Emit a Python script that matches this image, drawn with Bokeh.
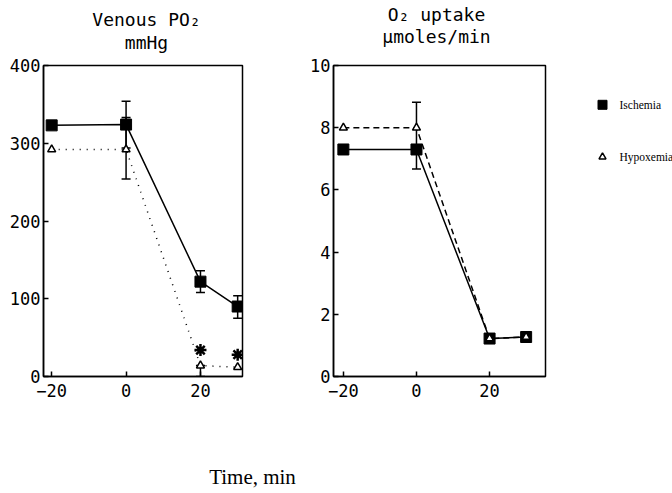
from bokeh.plotting import figure
from bokeh.models import Range1d, FixedTicker, Whisker, TeeHead, ColumnDataSource
from bokeh.layouts import column, row
from bokeh.embed import file_html
from bokeh.resources import INLINE
from bokeh.core.properties import value

# ---------------- data ----------------
time = [-20, 0, 20, 30]

# Venous PO2 (mmHg)
po2_ischemia = [323, 324, 122, 90]
po2_hypoxemia = [292, 292, 14, 12]
po2_isch_err_t = [0, 20, 30]
po2_isch_err_lo = [294, 108, 75]
po2_isch_err_hi = [354, 136, 104]
po2_hyp_err_t = [0, 20]
po2_hyp_err_lo = [254, 0]
po2_hyp_err_hi = [333, 14]
sig_t = [20, 30]
sig_y = [34, 28]

# O2 uptake (umoles/min)
o2_ischemia = [7.3, 7.3, 1.22, 1.27]
o2_hypoxemia = [8.0, 8.0, 1.22, 1.27]
o2_err_t = [0]
o2_err_lo = [6.67]
o2_err_hi = [8.82]

x_ticks = [-20, 0, 20]
po2_ticks = [0, 100, 200, 300, 400]
o2_ticks = [0, 2, 4, 6, 8, 10]

series_names = ["Ischemia", "Hypoxemia"]
x_title = "Time, min"
panel_titles = ["Venous PO₂", "mmHg", "O₂ uptake", "μmoles/min"]

MONO = "DejaVu Sans Mono"
SERIF = "Liberation Serif"
W1, W2, LW = 293, 262, 117
TW = W1 + W2 + LW
T = 56          # title strip height
H1 = 378 - T + 42   # panel row height
TH = 70         # bottom strip height


def bare(w, h):
    p = figure(width=w, height=h, x_range=Range1d(0, w), y_range=Range1d(h, 0),
               output_backend="svg", toolbar_location=None, x_axis_type=None,
               y_axis_type=None, min_border=0, title=None)
    p.xgrid.visible = False
    p.ygrid.visible = False
    p.outline_line_color = None
    return p


def style(p, xt, yt):
    p.xgrid.visible = False
    p.ygrid.visible = False
    p.outline_line_color = "black"
    p.outline_line_width = 1.5
    p.xaxis.ticker = FixedTicker(ticks=xt)
    p.yaxis.ticker = FixedTicker(ticks=yt)
    for ax in (p.xaxis, p.yaxis):
        ax.axis_line_width = 1.5
        ax.axis_line_color = "black"
        ax.major_tick_in = 5
        ax.major_tick_out = 0
        ax.major_tick_line_width = 1.5
        ax.minor_tick_line_color = None
        ax.major_label_text_font = MONO
        ax.major_label_text_font_size = "17px"
        ax.major_label_text_color = "black"
    p.yaxis.major_label_standoff = 3
    p.xaxis.major_label_standoff = 7
    p.background_fill_color = "white"
    p.border_fill_color = "white"


# ---------------- title strip ----------------
pt = bare(TW, T)
pt.text([146, 146, 436, 436], [19, 42, 14, 36], text=panel_titles,
        text_font=value(MONO), text_font_size="18px", text_align="center",
        text_baseline="middle", text_color="black")

# ---------------- left panel ----------------
p1 = figure(width=W1, height=H1, x_range=Range1d(-22.2, 31.3), y_range=Range1d(0, 400),
            output_backend="svg", toolbar_location=None, title=None,
            min_border_left=43, min_border_right=51, min_border_top=65 - T,
            min_border_bottom=H1 - (378 - T))
style(p1, x_ticks, po2_ticks)

p1.line(time, po2_hypoxemia, line_color="black", line_width=1.5, line_dash="1 6")
p1.line(time, po2_ischemia, line_color="black", line_width=1.5)
src_pi = ColumnDataSource(dict(t=po2_isch_err_t, lo=po2_isch_err_lo, hi=po2_isch_err_hi))
src_ph = ColumnDataSource(dict(t=po2_hyp_err_t, lo=po2_hyp_err_lo, hi=po2_hyp_err_hi))
for src in (src_pi, src_ph):
    p1.add_layout(Whisker(source=src, base="t", lower="lo", upper="hi",
                          line_color="black", line_width=1.5,
                          upper_head=TeeHead(size=9, line_width=1.5),
                          lower_head=TeeHead(size=9, line_width=1.5)))
p1.scatter(time, po2_ischemia, marker="square", size=11, fill_color="black", line_color="black")
p1.scatter(time, po2_hypoxemia, marker="triangle", size=8, fill_color="white",
           line_color="black", line_width=1.5)
p1.scatter(sig_t, sig_y, marker="asterisk", size=12, line_color="black", line_width=2.5)

# ---------------- right panel ----------------
p2 = figure(width=W2, height=H1, x_range=Range1d(-22.7, 35.3), y_range=Range1d(0, 10),
            output_backend="svg", toolbar_location=None, title=None,
            min_border_left=40, min_border_right=10, min_border_top=60 - T,
            min_border_bottom=H1 - (376 - T))
style(p2, x_ticks, o2_ticks)

p2.line(time, o2_hypoxemia, line_color="black", line_width=1.5, line_dash="6 4")
p2.line(time, o2_ischemia, line_color="black", line_width=1.5)
src_o = ColumnDataSource(dict(t=o2_err_t, lo=o2_err_lo, hi=o2_err_hi))
p2.add_layout(Whisker(source=src_o, base="t", lower="lo", upper="hi",
                      line_color="black", line_width=1.5,
                      upper_head=TeeHead(size=9, line_width=1.5),
                      lower_head=TeeHead(size=9, line_width=1.5)))
p2.scatter(time, o2_ischemia, marker="square", size=11, fill_color="black", line_color="black")
p2.scatter(time, o2_hypoxemia, marker="triangle", size=8, fill_color="white",
           line_color="black", line_width=1.5)

# ---------------- legend panel ----------------
p3 = bare(LW, H1)
leg_x = [47, 47]
leg_y = [102 - T, 163 - T]
p3.scatter(leg_x[:1], leg_y[:1], marker="square", size=9, fill_color="black", line_color="black")
p3.scatter(leg_x[1:], leg_y[1:], marker="triangle", size=7, fill_color="white",
           line_color="black", line_width=1.5)
p3.text([64, 64], leg_y, text=series_names, text_font=value(SERIF), text_font_size="11.5px",
        text_baseline="middle", text_align="left", text_color="black")

# ---------------- bottom x-title ----------------
p4 = bare(TW, TH)
p4.text([252], [56], text=[x_title], text_font=value(SERIF), text_font_size="21px",
        text_baseline="middle", text_align="center", text_color="black")

layout = column(pt, row(p1, p2, p3), p4)
open("out.html", "w").write(file_html(layout, INLINE))
